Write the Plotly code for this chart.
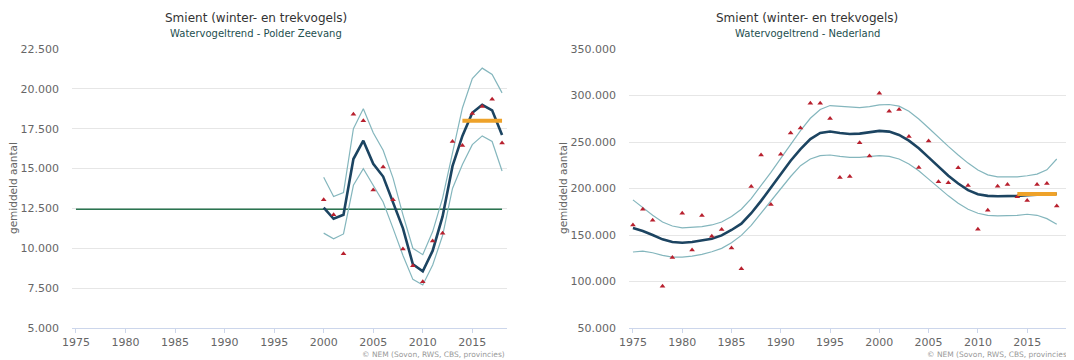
import plotly.graph_objects as go

# ---- Polder Zeevang (left) ----
years_pz = list(range(2000, 2019))
trend_pz = [12550, 11850, 12100, 15600, 16750, 15300, 14500, 12900, 11250, 9000,
            8550, 9850, 12000, 15150, 17050, 18500, 19000, 18650, 17100]
upper_pz = [14450, 13250, 13500, 17500, 18750, 17250, 16150, 14400, 12100, 10000,
            9600, 11050, 13150, 15900, 18800, 20650, 21300, 20900, 19750]
lower_pz = [10950, 10600, 10900, 13950, 15000, 13950, 12900, 11250, 9550, 8050,
            7700, 8950, 10800, 13750, 15250, 16500, 17050, 16700, 14850]
obs_pz = [13050, 12100, 9650, 18400, 18000, 13650, 15100, 13050, 9950, 8900,
          7900, 10450, 10950, 16700, 16450, 18450, 18900, 19350, 16600]
ref_years_pz = [1975, 2018]
ref_level_pz = [12450, 12450]
recent_years_pz = [2014, 2018]
recent_level_pz = [18000, 18000]

# ---- Nederland (right) ----
years_nl = list(range(1975, 2019))
trend_nl = [157500, 154300, 150000, 145300, 142400, 141700, 142400, 143900, 146000, 149600,
            155400, 162200, 173400, 186700, 201100, 215500, 229900, 242400, 253200, 259700,
            261200, 259700, 258600, 259000, 260400, 261900, 261200, 257600, 251400, 243200,
            233500, 223400, 213700, 205400, 198200, 193900, 192100, 191700, 191700, 192100,
            192800, 193300, 193800, 194300]
upper_nl = [187800, 179500, 171200, 164000, 159700, 157600, 157900, 159000, 160800, 164000,
            169800, 177700, 189200, 202900, 217300, 232400, 247800, 262200, 275500, 284900,
            289200, 288500, 287400, 287000, 288100, 289900, 290300, 288500, 283100, 274800,
            265100, 255000, 245300, 236000, 227300, 219800, 214700, 212600, 212200, 212600,
            213700, 215500, 220100, 231700]
lower_nl = [131700, 132700, 130900, 128100, 126300, 126300, 127300, 129100, 132000, 135600,
            141700, 149600, 160400, 173400, 186700, 200000, 212900, 224500, 231700, 235300,
            236000, 234500, 233500, 233500, 234500, 235300, 234500, 231700, 226300, 219100,
            210100, 201100, 192100, 184200, 177700, 173400, 171200, 170500, 170500, 171200,
            172300, 171200, 167600, 161500]
obs_nl = [160800, 177700, 165800, 95000, 125900, 173400, 133800, 170900, 148600, 155800,
          136000, 113700, 202200, 236000, 182700, 236700, 259700, 265100, 291700, 291700,
          275200, 211900, 213000, 249300, 234900, 302500, 283100, 284900, 255800, 222700,
          251100, 207200, 206100, 222300, 203200, 156100, 176600, 202500, 204300, 191000,
          187000, 204300, 205400, 181300]
recent_years_nl = [2014, 2018]
recent_level_nl = [194000, 194000]

title = "Smient (winter- en trekvogels)"
subtitles = ["Watervogeltrend - Polder Zeevang", "Watervogeltrend - Nederland"]
credit = "© NEM (Sovon, RWS, CBS, provincies)"

# page body has an 8px margin, so the figure is shifted by that much
OX, OY = 8, 8
W, H = 1074 - OX, 360 - OY
DARK = "#1c4461"
BAND = "#84b6bd"
RED = "#b8202e"
ORANGE = "#eea22a"
GREEN = "#2a7550"
FONT = "DejaVu Sans"


def px(x):
    return (x - OX) / W


def py(y):
    return 1 - (y - OY) / H


fig = go.Figure()


def add_panel(xa, ya, years, trend, upper, lower, obs, recent_x, recent_y):
    for band in (upper, lower):
        fig.add_trace(go.Scatter(x=years, y=band, mode="lines", xaxis=xa, yaxis=ya,
                                 line=dict(color=BAND, width=1.2), hoverinfo="skip"))
    fig.add_trace(go.Scatter(x=years, y=trend, mode="lines", xaxis=xa, yaxis=ya,
                             line=dict(color=DARK, width=2.6)))
    fig.add_trace(go.Scatter(x=years, y=obs, mode="markers", xaxis=xa, yaxis=ya,
                             marker=dict(symbol="triangle-up", size=5, color=RED)))
    fig.add_trace(go.Scatter(x=recent_x, y=recent_y, mode="lines", xaxis=xa, yaxis=ya,
                             line=dict(color=ORANGE, width=4)))


# reference level line (left only), drawn under the rest
fig.add_trace(go.Scatter(x=ref_years_pz, y=ref_level_pz, mode="lines", xaxis="x", yaxis="y",
                         line=dict(color=GREEN, width=1.4)))
add_panel("x", "y", years_pz, trend_pz, upper_pz, lower_pz, obs_pz, recent_years_pz, recent_level_pz)
add_panel("x2", "y2", years_nl, trend_nl, upper_nl, lower_nl, obs_nl, recent_years_nl, recent_level_nl)

ydom = [py(328), py(49)]

xcommon = dict(tickmode="linear", tick0=1975, dtick=5, showgrid=False, zeroline=False,
               showline=True, linecolor="#ccd6eb", linewidth=1, ticks="outside",
               ticklen=4, tickcolor="#ccd6eb", automargin=False,
               tickfont=dict(size=11, color="#666666"))
ycommon = dict(showgrid=True, gridcolor="#e6e6e6", gridwidth=1, zeroline=False,
               showline=False, tickformat=",d", ticks="", ticklabelstandoff=12,
               automargin=False, tickfont=dict(size=11, color="#666666"))

fig.update_layout(
    width=W, height=H,
    margin=dict(l=0, r=0, t=0, b=0),
    paper_bgcolor="white", plot_bgcolor="white",
    showlegend=False,
    separators=",.",
    font=dict(family=FONT, color="#666666"),
    xaxis=dict(domain=[px(72), px(507)], range=[1974.6, 2018.5], anchor="y", **xcommon),
    yaxis=dict(domain=ydom, range=[5000, 22500], dtick=2500, anchor="x", **ycommon),
    xaxis2=dict(domain=[px(629), 1.0], range=[1974.6, 2019.75], anchor="y2", **xcommon),
    yaxis2=dict(domain=ydom, range=[50000, 350000], dtick=50000, anchor="x2", **ycommon),
)

ann = []
for cx, sub in ((256, subtitles[0]), (807, subtitles[1])):
    ann.append(dict(x=px(cx), y=py(18), text=title, showarrow=False, xref="paper", yref="paper",
                    xanchor="center", yanchor="middle",
                    font=dict(size=12, color="#333333", family=FONT)))
    ann.append(dict(x=px(cx), y=py(34), text=sub, showarrow=False, xref="paper", yref="paper",
                    xanchor="center", yanchor="middle",
                    font=dict(size=10, color="#1d4f4f", family=FONT)))
for cx in (13, 563):
    ann.append(dict(x=px(cx), y=py(188), text="gemiddeld aantal", textangle=-90, showarrow=False,
                    xref="paper", yref="paper", xanchor="center", yanchor="middle",
                    font=dict(size=10.5, color="#666666", family=FONT)))
for rx in (507, 1072):
    ann.append(dict(x=px(rx), y=py(354), text=credit, showarrow=False, xanchor="right",
                    yanchor="middle", xref="paper", yref="paper",
                    font=dict(size=7.5, color="#999999", family=FONT)))
fig.update_layout(annotations=ann)

fig.write_html("out.html")
